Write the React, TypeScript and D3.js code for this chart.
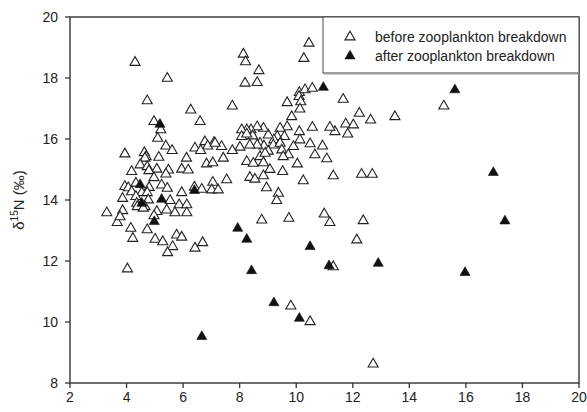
import * as d3 from "d3";

// axis ticks
const xTicks = [2, 4, 6, 8, 10, 12, 14, 16, 18, 20];
const yTicks = [8, 10, 12, 14, 16, 18, 20];

const legendLabels = ["before zooplankton breakdown", "after zooplankton breakdown"];

// [x, d15N] before zooplankton breakdown (open triangles)
const before: [number, number][] = [
  [4.30, 18.51], [5.44, 17.99], [4.73, 17.25], [6.27, 16.95], [4.97, 16.57], [6.60, 16.57],
  [5.21, 16.30], [5.10, 16.02], [6.77, 15.91], [7.09, 15.88], [5.39, 15.77], [5.61, 15.62],
  [6.42, 15.70], [6.87, 15.77], [3.94, 15.51], [4.63, 15.55], [5.14, 15.40], [6.12, 15.37],
  [4.69, 15.42], [6.62, 15.62], [4.65, 15.37],
  [4.48, 15.15], [4.73, 15.09], [5.07, 15.01], [5.48, 14.98], [5.95, 15.01], [6.18, 14.98],
  [4.18, 14.93], [4.79, 14.96], [5.39, 14.85], [4.97, 14.73], [6.83, 15.18], [7.05, 15.22],
  [4.33, 14.55], [3.94, 14.44], [4.06, 14.40], [4.80, 14.41], [5.24, 14.49], [5.44, 14.38],
  [4.18, 14.27], [4.54, 14.24], [4.73, 14.24], [5.95, 14.24], [6.40, 14.42], [3.86, 14.05],
  [4.33, 14.11], [4.77, 14.00], [5.54, 13.98], [5.86, 13.84], [6.13, 13.84], [4.36, 13.89],
  [4.38, 13.78], [4.65, 13.78], [4.59, 13.73], [3.30, 13.58], [3.86, 13.65], [5.07, 13.62],
  [5.42, 13.67], [5.71, 13.58], [6.13, 13.58], [4.97, 13.48], [3.67, 13.26], [3.77, 13.45],
  [4.15, 13.07], [4.73, 13.02], [4.22, 12.74], [5.01, 12.71], [5.28, 12.63], [5.77, 12.85],
  [5.95, 12.78], [6.42, 12.42], [5.63, 12.47], [5.45, 12.27], [4.03, 11.74], [6.69, 12.60],
  [10.45, 19.14], [10.27, 18.64], [8.13, 18.78], [8.21, 18.53], [8.68, 18.24], [8.19, 17.83],
  [8.62, 17.85], [7.74, 17.08], [11.66, 17.30], [10.11, 17.52], [10.31, 17.61], [10.57, 17.66],
  [10.10, 17.39], [10.16, 17.22], [9.68, 17.19], [10.13, 16.98], [9.84, 16.73], [12.23, 16.84],
  [11.75, 16.49], [12.02, 16.46], [11.37, 16.24], [11.82, 16.16], [11.19, 16.38], [10.57, 16.38],
  [10.11, 16.24], [10.13, 15.97], [10.49, 15.84], [10.93, 15.77], [9.90, 15.75], [9.68, 16.40],
  [9.43, 16.35], [9.58, 16.08], [9.33, 16.08], [9.21, 15.97], [9.01, 16.13], [8.84, 16.35],
  [8.62, 16.40], [8.40, 16.30], [8.25, 16.30], [8.07, 16.30], [8.07, 16.08], [8.46, 16.10],
  [8.25, 16.16], [8.72, 15.86], [8.86, 15.77], [8.62, 15.80], [8.36, 15.80], [8.01, 15.73],
  [7.74, 15.62], [7.36, 15.75], [7.13, 15.86], [9.19, 15.80], [9.43, 15.86], [9.49, 15.64],
  [9.72, 15.48], [9.54, 15.42], [10.66, 15.48], [11.08, 15.35], [9.01, 15.60],
  [7.42, 15.37], [8.25, 15.26], [8.48, 15.20], [8.72, 15.42], [8.90, 15.53], [8.84, 15.22],
  [9.07, 15.00], [8.84, 14.79], [8.36, 14.74], [8.54, 14.68], [9.52, 14.93], [10.04, 15.18],
  [10.25, 14.63], [11.31, 14.79], [7.54, 14.66], [7.05, 14.58], [7.01, 14.33], [7.24, 14.33],
  [6.66, 14.35], [8.95, 14.40], [9.37, 14.22], [9.31, 13.98], [8.78, 13.34], [9.74, 13.40],
  [10.99, 13.54], [11.19, 13.26], [12.14, 12.69], [11.31, 11.81], [12.37, 13.32],
  [15.22, 17.08], [12.63, 16.62], [13.49, 16.73], [12.31, 14.84], [12.69, 14.84],
  [9.81, 10.52], [10.49, 10.01], [12.72, 8.62],
];

// [x, d15N] after zooplankton breakdown (filled triangles)
const after: [number, number][] = [
  [5.18, 16.48], [10.96, 17.69], [15.61, 17.61], [5.24, 14.02], [6.40, 14.31], [4.98, 13.29],
  [7.93, 13.07], [8.25, 12.71], [10.49, 12.47], [11.16, 11.84], [8.42, 11.68], [12.90, 11.92],
  [9.21, 10.63], [10.11, 10.12], [6.66, 9.52], [16.97, 14.90], [17.38, 13.31], [15.97, 11.62],
  [4.48, 14.50], [4.54, 13.89],
];

export default function App() {
  const width = 587;
  const height = 412;
  const left = 70, right = 579, top = 17, bottom = 383;

  const x = d3.scaleLinear().domain([2, 20]).range([left, right]);
  const y = d3.scaleLinear().domain([8, 20]).range([bottom, top]);
  const tri = d3.symbol().type(d3.symbolTriangle).size(44)() || "";
  const font = "Liberation Sans, Arial, sans-serif";

  return (
    <div style={{ position: "fixed", left: 0, top: 0 }}>
      <svg width={width} height={height} style={{ display: "block", background: "#fff" }}>
        {/* ticks */}
        {xTicks.map(t => (
          <g key={"x" + t}>
            <line x1={x(t)} x2={x(t)} y1={bottom} y2={bottom + 5} stroke="#333" strokeWidth={1.3} />
            <text x={x(t)} y={bottom + 19} textAnchor="middle" fontFamily={font} fontSize={14} fill="#222">{t}</text>
          </g>
        ))}
        {yTicks.map(t => (
          <g key={"y" + t}>
            <line x1={left - 5} x2={left} y1={y(t)} y2={y(t)} stroke="#333" strokeWidth={1.3} />
            <text x={left - 12} y={y(t) + 5} textAnchor="end" fontFamily={font} fontSize={14} fill="#222">{t}</text>
          </g>
        ))}
        <text transform={`translate(24,${(top + bottom) / 2}) rotate(-90)`} textAnchor="middle" fontFamily={font} fontSize={15} fill="#222">
          δ<tspan fontSize={10} dy={-6}>15</tspan><tspan dy={6}>N (‰)</tspan>
        </text>

        {/* points */}
        {before.map((d, i) => (
          <path key={"b" + i} d={tri} transform={`translate(${x(d[0])},${y(d[1])})`} fill="#fff" stroke="#222" strokeWidth={1.1} />
        ))}
        {after.map((d, i) => (
          <path key={"a" + i} d={tri} transform={`translate(${x(d[0])},${y(d[1])})`} fill="#111" stroke="#111" strokeWidth={0.6} />
        ))}

        {/* frame */}
        <rect x={left} y={top} width={right - left} height={bottom - top} fill="none" stroke="#333" strokeWidth={1.4} />

        {/* legend */}
        <rect x={323} y={top} width={right - 323} height={56} fill="#fff" stroke="#444" strokeWidth={1} />
        <line x1={324} x2={right} y1={top + 56.5} y2={top + 56.5} stroke="#999" strokeWidth={2} />
        <path d={tri} transform="translate(350,37)" fill="#fff" stroke="#222" strokeWidth={1.1} />
        <path d={tri} transform="translate(350,56)" fill="#111" stroke="#111" strokeWidth={0.6} />
        {legendLabels.map((l, i) => (
          <text key={l} x={375} y={42 + i * 19} fontFamily={font} fontSize={14} fill="#222">{l}</text>
        ))}
      </svg>
    </div>
  );
}
